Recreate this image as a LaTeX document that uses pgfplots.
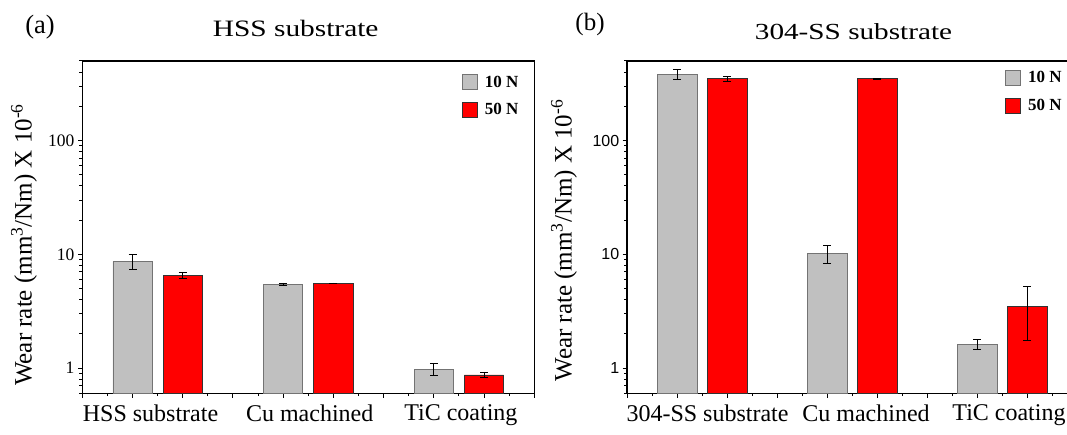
\documentclass[border=0pt]{standalone}
\usepackage{fontspec}
\setmainfont{Liberation Serif}
\setsansfont{Liberation Sans}
\usepackage{pgfplots}
\pgfplotsset{compat=1.18}
\usepackage{pgfplotstable}

\pgfplotstableread{
x y e
1 8.6 1.3
4 5.45 0.15
7 0.98 0.12
}\hssA
\pgfplotstableread{
x y e
2 6.55 0.35
5 5.55 0.05
8 0.87 0.05
}\hssB
\pgfplotstableread{
x y e
1 380 38
4 10.2 1.8
7 1.62 0.15
}\ssA
\pgfplotstableread{
x y e
2 350 18
5 350 3
8 3.5 1.75
}\ssB

\definecolor{bargray}{RGB}{192,192,192}
\definecolor{barred}{RGB}{255,0,0}
\newcommand{\shiftlab}[2]{\makebox[0pt]{\hspace*{#1}#2}}

\begin{document}
\begin{tikzpicture}
% ---- panel (a): frame ----
\begin{axis}[scale only axis, height=332.3pt, width=452pt,
    at={(82.3pt,40.7pt)}, anchor=south west,
    ymode=log, ymin=0.6, ymax=500, xmin=0, xmax=9,
    axis line style={line width=1.2pt},
    xtick=\empty, ytick=\empty, minor ytick={}, minor xtick={}]
\end{axis}
% ---- panel (a): data ----
\begin{axis}[scale only axis, height=332.3pt, width=452pt,
    at={(82.3pt,40.7pt)}, anchor=south west,
    ymode=log, ymin=0.6, ymax=500, log origin y=infty,
    xmin=0, xmax=9,
    axis x line*=bottom, axis y line*=left,
    axis line style={line width=1.2pt},
    tick align=outside,
    tick style={black, line width=1pt},
    xtick={0,1,2,3,4,5,6,7,8,9},
    xticklabels={,\shiftlab{36pt}{HSS substrate},,,\shiftlab{53pt}{Cu machined},,,\shiftlab{54pt}{TiC coating},,},
    minor xtick={0.5,1.5,2.5,3.5,4.5,5.5,6.5,7.5,8.5},
    ytick={1,10,100}, yticklabels={1,10,100},
    minor ytick={0.6,0.7,0.8,0.9,2,3,4,5,6,7,8,9,20,30,40,50,60,70,80,90,200,300,400,500},
    x tick label style={font=\rmfamily\fontsize{24}{26}\selectfont, inner sep=2pt, yshift=-5pt},
    y tick label style={font=\rmfamily\fontsize{17.5}{19}\selectfont},
    ylabel={Wear rate (mm\textsuperscript{3}/Nm) X 10\textsuperscript{-6}},
    y label style={at={(axis description cs:-0.129,0.447)}, anchor=center, font=\rmfamily\fontsize{25}{27}\selectfont},
    legend style={draw=none, fill=none, inner sep=0pt, anchor=north west,
      at={(axis description cs:0.84,0.962)},
      font=\rmfamily\bfseries\fontsize{17}{18}\selectfont, row sep=11pt,
      /tikz/every odd column/.append style={column sep=5pt}},
    legend cell align=left]
\addplot[ybar, bar width=0.78, bar shift=0pt, fill=bargray, draw=black!55, line width=0.8pt,
    legend image code/.code={\draw[fill=bargray, draw=black!55, line width=0.8pt] (0pt,-7.5pt) rectangle (15pt,7.5pt);},
    error bars/.cd, y dir=both, y explicit,
    error bar style={line width=0.8pt, black},
    error mark options={rotate=90, mark size=4pt, line width=0.8pt, black}]
  table[x=x, y=y, y error=e] {\hssA};
\addplot[ybar, bar width=0.78, bar shift=0pt, fill=barred, draw=black!80, line width=0.8pt,
    legend image code/.code={\draw[fill=barred, draw=black!80, line width=0.8pt] (0pt,-7.5pt) rectangle (15pt,7.5pt);},
    error bars/.cd, y dir=both, y explicit,
    error bar style={line width=0.8pt, black},
    error mark options={rotate=90, mark size=4pt, line width=0.8pt, black}]
  table[x=x, y=y, y error=e] {\hssB};
\legend{10 N,50 N}
\end{axis}

% ---- panel (b): frame ----
\begin{axis}[scale only axis, height=332.3pt, width=450pt,
    at={(627pt,40.7pt)}, anchor=south west,
    ymode=log, ymin=0.6, ymax=500, xmin=0, xmax=9,
    axis line style={line width=1.2pt},
    xtick=\empty, ytick=\empty, minor ytick={}, minor xtick={}]
\end{axis}
% ---- panel (b): data ----
\begin{axis}[scale only axis, height=332.3pt, width=450pt,
    at={(627pt,40.7pt)}, anchor=south west,
    ymode=log, ymin=0.6, ymax=500, log origin y=infty,
    xmin=0, xmax=9,
    axis x line*=bottom, axis y line*=left,
    axis line style={line width=1.2pt},
    tick align=outside,
    tick style={black, line width=1pt},
    xtick={0,1,2,3,4,5,6,7,8,9},
    xticklabels={,\shiftlab{61pt}{304-SS substrate},,,\shiftlab{78pt}{Cu machined},,,\shiftlab{64pt}{TiC coating},,},
    minor xtick={0.5,1.5,2.5,3.5,4.5,5.5,6.5,7.5,8.5},
    ytick={1,10,100}, yticklabels={1,10,100},
    minor ytick={0.6,0.7,0.8,0.9,2,3,4,5,6,7,8,9,20,30,40,50,60,70,80,90,200,300,400,500},
    x tick label style={font=\rmfamily\fontsize{24}{26}\selectfont, inner sep=2pt, yshift=-5pt},
    y tick label style={font=\sffamily\fontsize{16}{18}\selectfont},
    ylabel={Wear rate (mm\textsuperscript{3}/Nm) X 10\textsuperscript{-6}},
    y label style={at={(axis description cs:-0.14,0.46)}, anchor=center, font=\rmfamily\fontsize{25}{27}\selectfont},
    legend style={draw=none, fill=none, inner sep=0pt, anchor=north west,
      at={(axis description cs:0.84,0.975)},
      font=\rmfamily\bfseries\fontsize{17}{18}\selectfont, row sep=11pt,
      /tikz/every odd column/.append style={column sep=5pt}},
    legend cell align=left]
\addplot[ybar, bar width=0.8, bar shift=0pt, fill=bargray, draw=black!55, line width=0.8pt,
    legend image code/.code={\draw[fill=bargray, draw=black!55, line width=0.8pt] (0pt,-7.5pt) rectangle (15pt,7.5pt);},
    error bars/.cd, y dir=both, y explicit,
    error bar style={line width=0.8pt, black},
    error mark options={rotate=90, mark size=4pt, line width=0.8pt, black}]
  table[x=x, y=y, y error=e] {\ssA};
\addplot[ybar, bar width=0.8, bar shift=0pt, fill=barred, draw=black!80, line width=0.8pt,
    legend image code/.code={\draw[fill=barred, draw=black!80, line width=0.8pt] (0pt,-7.5pt) rectangle (15pt,7.5pt);},
    error bars/.cd, y dir=both, y explicit,
    error bar style={line width=0.8pt, black},
    error mark options={rotate=90, mark size=4pt, line width=0.8pt, black}]
  table[x=x, y=y, y error=e] {\ssB};
\legend{10 N,50 N}
\end{axis}

\node[anchor=base, font=\fontsize{26.5}{28}\selectfont] at (40pt,400.7pt) {(a)};
\node[anchor=base, font=\fontsize{23.5}{26}\selectfont] at (295.7pt,397pt) {\scalebox{1.25}[1]{HSS substrate}};
\node[anchor=base, font=\fontsize{25}{27}\selectfont] at (590pt,403.3pt) {(b)};
\node[anchor=base, font=\fontsize{23}{26}\selectfont] at (853.5pt,394pt) {\scalebox{1.27}[1]{304-SS substrate}};

\pgfresetboundingbox
\path (0pt,0pt) rectangle (1067pt,434pt);
\end{tikzpicture}
\end{document}
